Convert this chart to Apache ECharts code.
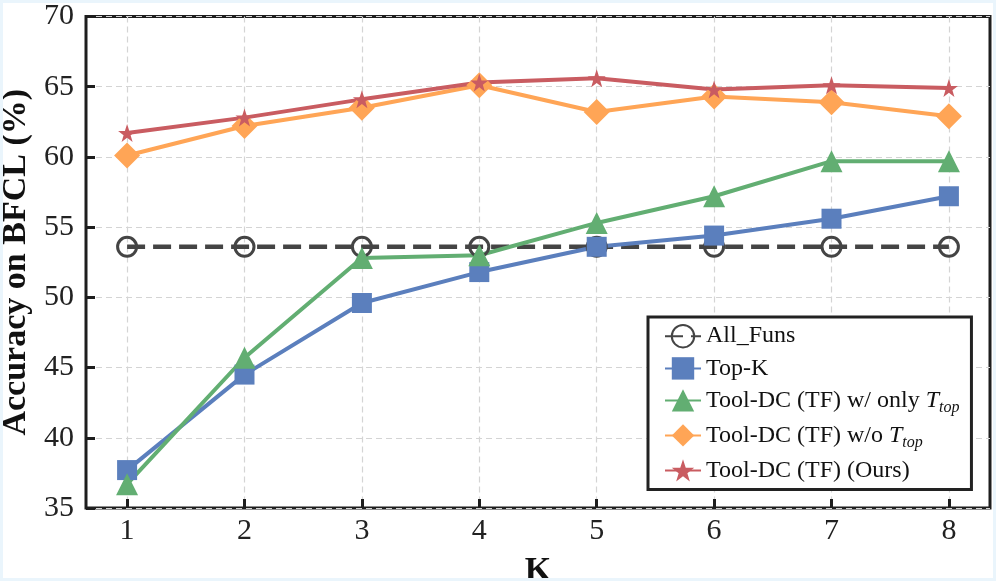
<!DOCTYPE html>
<html>
<head>
<meta charset="utf-8">
<title>Accuracy on BFCL</title>
<script src="https://cdn.jsdelivr.net/npm/echarts@6/dist/echarts.min.js"></script>
<style>
    html, body { margin: 0; padding: 0; background: #eaf5fc; }
    #box { position: absolute; left: 3px; top: 3px; width: 990px; height: 575px; background: #fff; }
</style>
</head>
<body>
<div id="box"></div>
<script>
// 横轴 K
var kValues = [1, 2, 3, 4, 5, 6, 7, 8];
var yTicks = [35, 40, 45, 50, 55, 60, 65, 70];

// 各方法的准确率
var allFuns = [53.6, 53.6, 53.6, 53.6, 53.6, 53.6, 53.6, 53.6];
var topK = [37.7, 44.5, 49.6, 51.8, 53.6, 54.4, 55.6, 57.2];
var onlyTtop = [36.7, 45.7, 52.8, 53.0, 55.3, 57.2, 59.7, 59.7];
var woTtop = [60.1, 62.2, 63.5, 65.1, 63.2, 64.3, 63.9, 62.9];
var ours = [61.7, 62.8, 64.1, 65.3, 65.6, 64.8, 65.1, 64.9];

var names = ['All_Funs', 'Top-K', 'Tool-DC (TF) w/ only T_top', 'Tool-DC (TF) w/o T_top', 'Tool-DC (TF) (Ours)'];

var star = 'path://M50,0 L61.8,35.1 L98.1,35.1 L68.8,56.7 L79.4,90.9 L50,69.1 L20.6,90.9 L31.2,56.7 L1.9,35.1 L38.2,35.1 Z';
var font = '"Liberation Serif", "DejaVu Serif", serif';

function pairs(vals) {
    return kValues.map(function (k, i) { return [k, vals[i]]; });
}

function lineSeries(name, vals, color, symbol, size) {
    return {
        name: name,
        type: 'line',
        data: pairs(vals),
        symbol: symbol,
        symbolSize: size,
        lineStyle: { color: color, width: 4 },
        itemStyle: { color: color },
        emphasis: { disabled: true }
    };
}

var myChart = echarts.init(document.getElementById('box'));
var option = {
    animation: false,
    grid: {
        left: 83, top: 13.5, right: 3, bottom: 70,
        containLabel: false,
        outerBoundsMode: 'none',
        show: true,
        borderColor: '#1e1e1e',
        borderWidth: 3,
        backgroundColor: '#fff'
    },
    legend: {
        orient: 'vertical',
        left: 645, top: 314,
        padding: [7, 12, 7, 16],
        itemGap: 8,
        itemWidth: 36,
        itemHeight: 28,
        borderColor: '#222',
        borderWidth: 3,
        backgroundColor: '#fff',
        data: names,
        textStyle: {
            fontFamily: font, fontSize: 24, color: '#111',
            rich: {
                it: { fontFamily: font, fontSize: 24, fontStyle: 'italic', color: '#111' },
                sub: { fontFamily: font, fontSize: 16, fontStyle: 'italic', color: '#111', padding: [14, 0, 0, 0] }
            }
        },
        formatter: function (name) {
            return name.replace('T_top', '{it|T}{sub|top}');
        }
    },
    xAxis: {
        type: 'value',
        min: 0.65,
        max: 8.35,
        name: 'K',
        nameLocation: 'middle',
        nameGap: 46,
        nameTextStyle: { fontFamily: font, fontSize: 34, fontWeight: 'bold', color: '#111' },
        axisLine: { show: false },
        axisTick: { show: true, inside: true, length: 9, lineStyle: { color: '#1e1e1e', width: 3 }, customValues: kValues },
        axisLabel: { fontFamily: font, fontSize: 30, color: '#222', margin: 8, customValues: kValues },
        splitLine: { show: true, lineStyle: { color: '#d4d4d4', width: 1.2, type: [6, 4] } }
    },
    yAxis: {
        type: 'value',
        min: 35,
        max: 70,
        interval: 5,
        name: 'Accuracy on BFCL (%)',
        nameLocation: 'middle',
        nameGap: 48,
        nameTextStyle: { fontFamily: font, fontSize: 34, fontWeight: 'bold', color: '#111' },
        axisLine: { show: false },
        axisTick: { show: true, inside: true, length: 9, lineStyle: { color: '#1e1e1e', width: 3 } },
        axisLabel: { fontFamily: font, fontSize: 30, color: '#222', margin: 12 },
        splitLine: { show: true, lineStyle: { color: '#d4d4d4', width: 1.2, type: [6, 4] } }
    },
    series: [
        {
            name: names[0],
            type: 'line',
            data: pairs(allFuns),
            symbol: 'circle',
            symbolSize: 19,
            lineStyle: { color: '#444', width: 4.5, type: [18, 8] },
            itemStyle: { color: 'rgba(255,255,255,0)', borderColor: '#444', borderWidth: 3 },
            emphasis: { disabled: true }
        },
        lineSeries(names[1], topK, '#5b7fbd', 'rect', 20),
        lineSeries(names[2], onlyTtop, '#62ae72', 'triangle', 22),
        lineSeries(names[3], woTtop, '#ffa556', 'diamond', 26),
        lineSeries(names[4], ours, '#c95c61', star, 18)
    ]
};
myChart.setOption(option);
</script>
</body>
</html>
